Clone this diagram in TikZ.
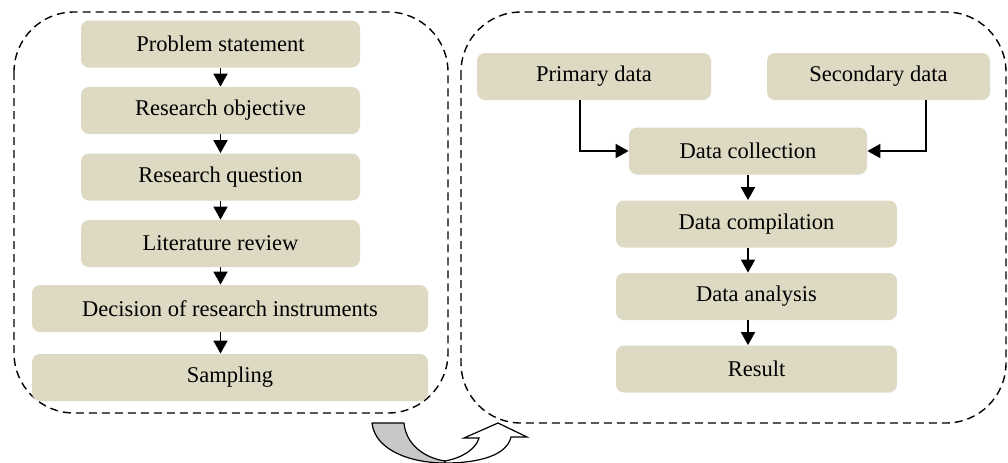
\documentclass[tikz,border=0pt]{standalone}
\usepackage{fontspec}
\setmainfont{Liberation Serif}
\usetikzlibrary{arrows.meta}
\definecolor{boxtan}{RGB}{221,217,195}
\definecolor{foldgray}{RGB}{200,200,200}
\begin{document}
\begin{tikzpicture}[x=0.5pt,y=-0.5pt,
  box/.style={fill=boxtan,rounded corners=4pt,minimum height=23.5pt,inner sep=0pt,font=\fontsize{11.25}{13}\selectfont},
  panel/.style={dashed,dash pattern=on 4pt off 2.5pt,line width=0.7pt},
  arr/.style={-{Triangle[width=7pt,length=6.5pt]},line width=0.9pt}]
\useasboundingbox (0,0) rectangle (1008,462);
% left panel
\draw[panel,rounded corners=30pt] (14,12) rectangle (448,413);
\node[box,minimum width=139.5pt] (ps) at (220.5,44) {Problem statement};
\node[box,minimum width=139.5pt] (ro) at (220.5,110.5) {Research objective};
\node[box,minimum width=139.5pt] (rq) at (220.5,177) {Research question};
\node[box,minimum width=139.5pt] (lr) at (220.5,243.5) {Literature review};
\node[box,minimum width=198pt] (dri) at (230,308.5) {Decision of research instruments};
\node[box,minimum width=198pt] (smp) at (230,377.5) {Sampling};
\draw[arr] (ps) -- (ro);
\draw[arr] (ro) -- (rq);
\draw[arr] (rq) -- (lr);
\draw[arr] (lr.south) -- (lr.south |- dri.north);
\draw[arr] (lr.south |- dri.south) -- (lr.south |- smp.north);
% right panel
\draw[panel,rounded corners=30pt] (461,12) rectangle (1006,423);
\node[box,minimum width=117pt] (pd) at (594,76.5) {Primary data};
\node[box,minimum width=111.5pt] (sd) at (878.5,76.5) {Secondary data};
\node[box,minimum width=119pt] (dc) at (748,151) {Data collection};
\node[box,minimum width=140.5pt] (dcp) at (756.5,224) {Data compilation};
\node[box,minimum width=140.5pt] (dan) at (756.5,296.5) {Data analysis};
\node[box,minimum width=140.5pt] (res) at (756.5,369) {Result};
\draw[arr] ([xshift=-7pt]pd.south) |- (dc.west);
\draw[arr] ([xshift=23.75pt]sd.south) |- (dc.east);
\draw[arr] (dc.south) -- (dc.south |- dcp.north);
\draw[arr] (dc.south |- dcp.south) -- (dc.south |- dan.north);
\draw[arr] (dc.south |- dan.south) -- (dc.south |- res.north);
% turn-over arrow
\draw[fill=foldgray,line width=0.6pt,line join=round] (372,423) -- (404,423) .. controls (406,445) and (425,458) .. (445,461) -- (445,463) .. controls (410,463) and (375,450) .. (372,423) -- cycle;
\draw[fill=white,line width=0.6pt,line join=miter] (445,461) .. controls (462,458) and (476,449) .. (479,438) -- (464,438) -- (498,423) -- (527,437) -- (511,437) .. controls (507,455) and (480,463) .. (445,463) -- cycle;
\end{tikzpicture}
\end{document}
